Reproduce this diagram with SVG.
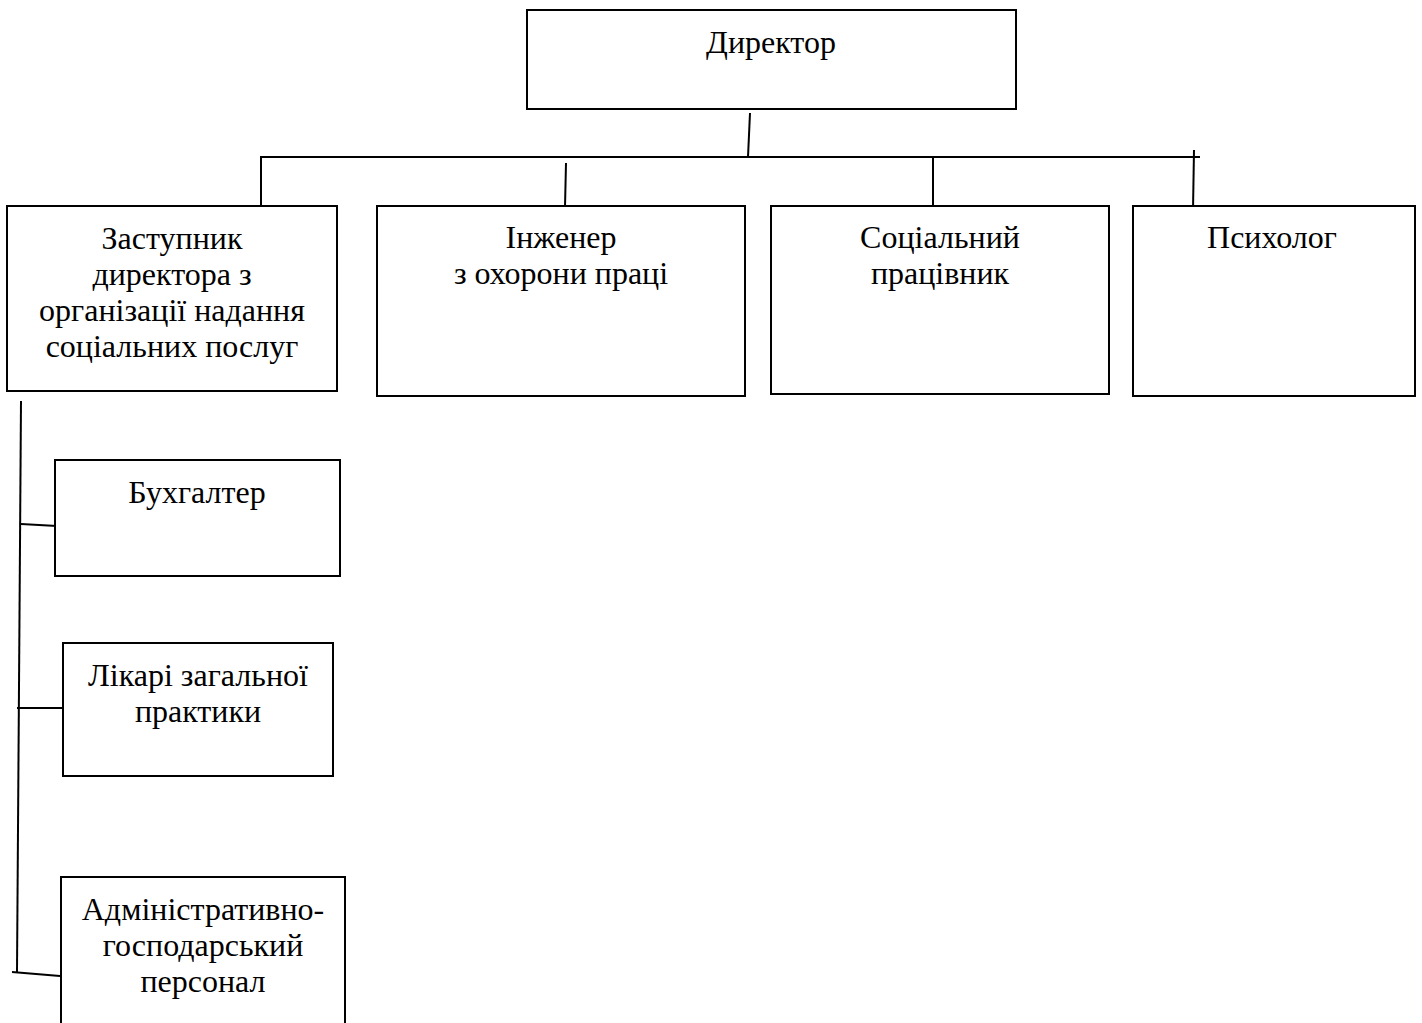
<svg xmlns="http://www.w3.org/2000/svg" width="1422" height="1023" viewBox="0 0 1422 1023">
<style>
.box{fill:#fff;stroke:#000;stroke-width:2}
.ln{stroke:#000;stroke-width:2;fill:none}
text{font-family:"Liberation Serif","Times New Roman",serif;font-size:32px;fill:#000;text-anchor:middle}
</style>
<rect width="1422" height="1023" fill="#fff"/>
<g id="connectors">
<line class="ln" x1="750" y1="113" x2="748" y2="157"/>
<line class="ln" x1="260" y1="157" x2="1200" y2="157"/>
<line class="ln" x1="261" y1="157" x2="261" y2="207"/>
<line class="ln" x1="566" y1="163" x2="565" y2="207"/>
<line class="ln" x1="933" y1="157" x2="933" y2="213"/>
<line class="ln" x1="1194" y1="150" x2="1193" y2="210"/>
<line class="ln" x1="21" y1="401" x2="17" y2="972"/>
<line class="ln" x1="21" y1="524" x2="57" y2="526"/>
<line class="ln" x1="17" y1="708" x2="63" y2="708"/>
<line class="ln" x1="12" y1="972" x2="60" y2="976"/>
</g>
<g id="director">
<rect class="box" x="527" y="10" width="489" height="99"/>
<text x="771" y="53">Директор</text>
</g>
<g id="deputy">
<rect class="box" x="7" y="206" width="330" height="185"/>
<text x="172" y="249">Заступник</text>
<text x="172" y="285">директора з</text>
<text x="172" y="321">організації надання</text>
<text x="172" y="357">соціальних послуг</text>
</g>
<g id="engineer">
<rect class="box" x="377" y="206" width="368" height="190"/>
<text x="561" y="248">Інженер</text>
<text x="561" y="284">з охорони праці</text>
</g>
<g id="social">
<rect class="box" x="771" y="206" width="338" height="188"/>
<text x="940" y="248">Соціальний</text>
<text x="940" y="284">працівник</text>
</g>
<g id="psychologist">
<rect class="box" x="1133" y="206" width="282" height="190"/>
<text x="1272" y="248">Психолог</text>
</g>
<g id="accountant">
<rect class="box" x="55" y="460" width="285" height="116"/>
<text x="197" y="503">Бухгалтер</text>
</g>
<g id="doctors">
<rect class="box" x="63" y="643" width="270" height="133"/>
<text x="198" y="686">Лікарі загальної</text>
<text x="198" y="722">практики</text>
</g>
<g id="admin">
<rect class="box" x="61" y="877" width="284" height="160"/>
<text x="203" y="920">Адміністративно-</text>
<text x="203" y="956">господарський</text>
<text x="203" y="992">персонал</text>
</g>
</svg>
